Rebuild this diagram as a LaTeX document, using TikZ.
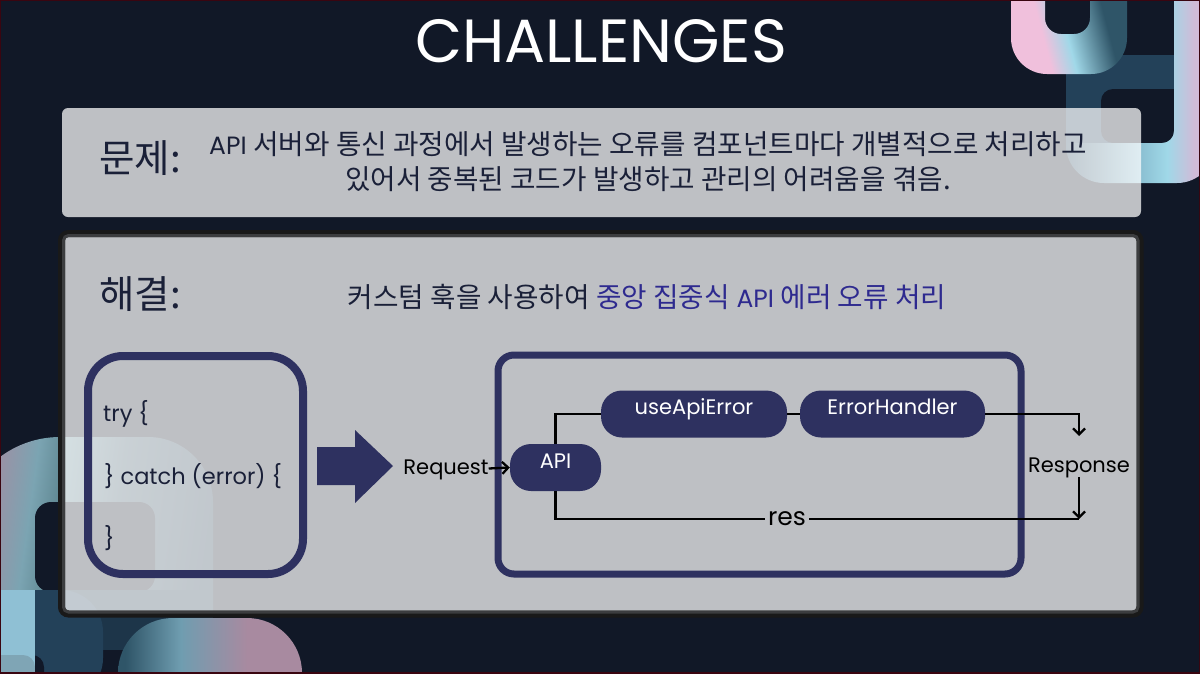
\documentclass[tikz,border=0pt]{standalone}
\usepackage{fontspec}
\setmainfont{Poppins}
\newfontfamily\krfont[Scale=1.108]{Noto Sans CJK KR}
\usetikzlibrary{arrows.meta}
\definecolor{pagebg}{HTML}{111827}
\definecolor{frameline}{HTML}{3A0510}
\definecolor{navybox}{HTML}{2E3160}
\definecolor{tealflat}{HTML}{234159}
\definecolor{tealdark}{HTML}{1D3549}
\definecolor{inktext}{HTML}{1A2038}
\definecolor{accenttext}{HTML}{2E2A8F}
\definecolor{pinklight}{HTML}{F0C0DC}
\definecolor{pinkcool}{HTML}{DAB8DC}
\definecolor{pinkmid}{HTML}{D0BCD8}
\definecolor{bluelight}{HTML}{A0D8E8}
\definecolor{bluefade}{HTML}{8BC0D2}
\definecolor{tealmid}{HTML}{2F5568}
\definecolor{pinkdim}{HTML}{A88AA0}
\definecolor{bluedim}{HTML}{8FC0D4}
\definecolor{bluegrey}{HTML}{6F9DB0}
\definecolor{stripdim}{HTML}{7FA5B5}
\definecolor{ringmid}{HTML}{7BA4B2}
\definecolor{ringfade}{HTML}{648C97}
\definecolor{ringlow}{HTML}{3A5565}
\definecolor{borderin}{HTML}{3C3D3F}
\pgfdeclarehorizontalshading{ushade}{100bp}{color(0bp)=(pinklight);color(33bp)=(pinklight);color(38bp)=(pinklight);color(49bp)=(bluelight);color(68bp)=(tealmid);color(100bp)=(tealmid)}
\pgfdeclarehorizontalshading{jshade}{100bp}{color(0bp)=(tealflat);color(25bp)=(tealflat);color(50bp)=(bluefade);color(59bp)=(bluelight);color(68bp)=(pinkmid);color(75bp)=(pinkcool);color(100bp)=(pinkcool)}
\pgfdeclarehorizontalshading{ringshade}{100bp}{color(0bp)=(pinkdim);color(27bp)=(pinkdim);color(38bp)=(ringmid);color(43bp)=(ringfade);color(56bp)=(ringlow);color(75bp)=(tealdark);color(100bp)=(tealdark)}
\pgfdeclarehorizontalshading{archshade}{100bp}{color(0bp)=(tealmid);color(27bp)=(tealmid);color(42bp)=(bluegrey);color(60bp)=(pinkdim);color(100bp)=(pinkdim)}
\tikzset{
  panel/.style={fill=white, fill opacity=.73, rounded corners=6pt},
  roundbox/.style={draw=navybox, line width=7pt},
  pill/.style={fill=navybox, text=white, rounded corners=21pt, inner xsep=0pt, inner ysep=6pt, text height=18pt, text depth=17pt, font=\fontsize{21}{21}\selectfont},
  plain/.style={inner sep=0pt, text=black, font=\fontsize{21}{21}\selectfont, text height=16pt, text depth=5pt},
  krline/.style={inner sep=0pt, text=inktext, font=\fontsize{25}{25}\selectfont},
  heading/.style={inner sep=0pt, text=inktext, font=\krfont\fontsize{34.8}{35}\selectfont},
  codeline/.style={inner sep=0pt, anchor=base west, text=inktext, font=\fontsize{22.5}{23}\selectfont},
  flow/.style={draw=black, line width=2.3pt},
  flowto/.style={flow, -{Straight Barb[length=6pt,width=12pt]}},
}
\begin{document}
\begin{tikzpicture}[x=1pt, y=-1pt]
\useasboundingbox (0,0) rectangle (1200,673);
\begin{scope}
\clip (0,0) rectangle (1200,673);
\fill[pagebg] (0,0) rectangle (1200,673);
% top right shapes
\fill[tealflat] (1066,55) rectangle (1180,150);
\fill[pagebg, rounded corners=12pt] (1101,89) -- (1101,143) -- (1190,143) -- (1190,89) -- cycle;
\shade[shading=jshade, rounded corners=38pt] (1066,143) -- (1066,183) -- (1215,183) [sharp corners] -- (1215,-5) -- (1174,-5) [rounded corners=12pt] -- (1174,143) [sharp corners] -- cycle;
\shade[shading=ushade, shading angle=15, rounded corners=36pt] (1011,-5) -- (1011,74) -- (1127,74) [sharp corners] -- (1127,-5) -- (1090,-5) [rounded corners=16pt] -- (1090,34) -- (1045,34) [sharp corners] -- (1045,-5) -- cycle;
% bottom left shapes
\shade[shading=ringshade, shading angle=-8] (-40,612) [rounded corners=100pt] -- (-40,437) [rounded corners=65pt] -- (213,437) [sharp corners] -- (213,612) -- cycle;
\fill[pagebg, rounded corners=16pt] (35,502) rectangle (155,592);
\fill[tealdark] (35,590) rectangle (213,650);
\shade[shading=archshade] (118,690) [rounded corners=55pt] -- (118,618) -- (302,618) [sharp corners] -- (302,690) -- cycle;
\fill[tealflat, rounded corners=42pt] (-5,590) -- (103,590) -- (103,700) [sharp corners] -- (-5,700) -- cycle;
\fill[bluedim] (0,590) rectangle (35,673);
\fill[stripdim, rounded corners=12pt] (-20,655) -- (35,655) [sharp corners] -- (35,690) -- (-20,690) -- cycle;
\begin{scope}
\clip (35,650) rectangle (60,680);
\fill[pagebg, rounded corners=12pt] (-20,655) -- (44,655) -- (44,690) [sharp corners] -- (-20,690) -- cycle;
\end{scope}
\end{scope}
% panels
\fill[panel] (62,108) rectangle (1141,217);
\fill[panel] (62,234) rectangle (1141,614);
\draw[draw=black!90, line width=7pt, rounded corners=7pt] (61.5,233.5) rectangle (1140,614);
\draw[draw=borderin, line width=3pt, rounded corners=5pt] (63.5,235.5) rectangle (1138,612);
\draw[frameline, line width=2.5pt] (0,0) rectangle (1200,673);
% texts
\node[text=white, inner sep=0pt, font=\fontsize{61}{61}\selectfont] (title) at (601,41) {CHALLENGES};
\node[heading] (problem) at (140,158) {문제:};
\node[heading] (solution) at (140,294) {해결:};
\node[krline] (problemone) at (648,144) {API {\krfont 서버와 통신 과정에서 발생하는 오류를 컴포넌트마다 개별적으로 처리하고}};
\node[krline] (problemtwo) at (648,179) {\krfont 있어서 중복된 코드가 발생하고 관리의 어려움을 겪음.};
\node[krline] (solutionone) at (647,297) {{\krfont 커스텀 훅을 사용하여} \textcolor{accenttext}{{\krfont 중앙 집중식} API {\krfont 에러 오류 처리}}};
% code box
\draw[roundbox, line width=8pt, rounded corners=35pt] (88,356) rectangle (303,574);
\node[codeline] (tryline) at (103,421) {try \{};
\node[codeline] (catchline) at (104,484) {\} catch (error) \{};
\node[codeline] (endline) at (104,546) {\}};
\fill[navybox] (317,447) -- (355,447) -- (355,430) -- (393,466) -- (355,503) -- (355,485) -- (317,485) -- cycle;
% api box
\draw[roundbox, rounded corners=16pt] (498,355) rectangle (1021,574);
\node[pill, minimum width=91pt] (api) at (555.5,467.5) {API};
\node[pill, minimum width=186pt] (useapi) at (694,414) {useApiError};
\node[pill, minimum width=185pt] (handler) at (892.5,414) {ErrorHandler};
\node[plain, anchor=base] (request) at (446,474) {Request};
\node[plain, anchor=base] (response) at (1079,472) {Response};
\node[plain, font=\fontsize{25}{25}\selectfont, inner xsep=3pt, text height=14pt, text depth=1pt, anchor=base] (res) at (787,525.5) {res};
\coordinate (resptop) at (1079,436);
\coordinate (respbot) at (1079,519);
\draw[flowto] (request.east) -- (api.west);
\draw[flow] (api.north) |- (useapi.west);
\draw[flow] (useapi.east) -- (handler.west);
\draw[flowto] (handler.east) -| (resptop);
\draw[flowto] (response.south) -- (respbot);
\draw[flow] (api.south) |- (res.west);
\draw[flow] (res.east) -- (respbot);
\end{tikzpicture}
\end{document}
